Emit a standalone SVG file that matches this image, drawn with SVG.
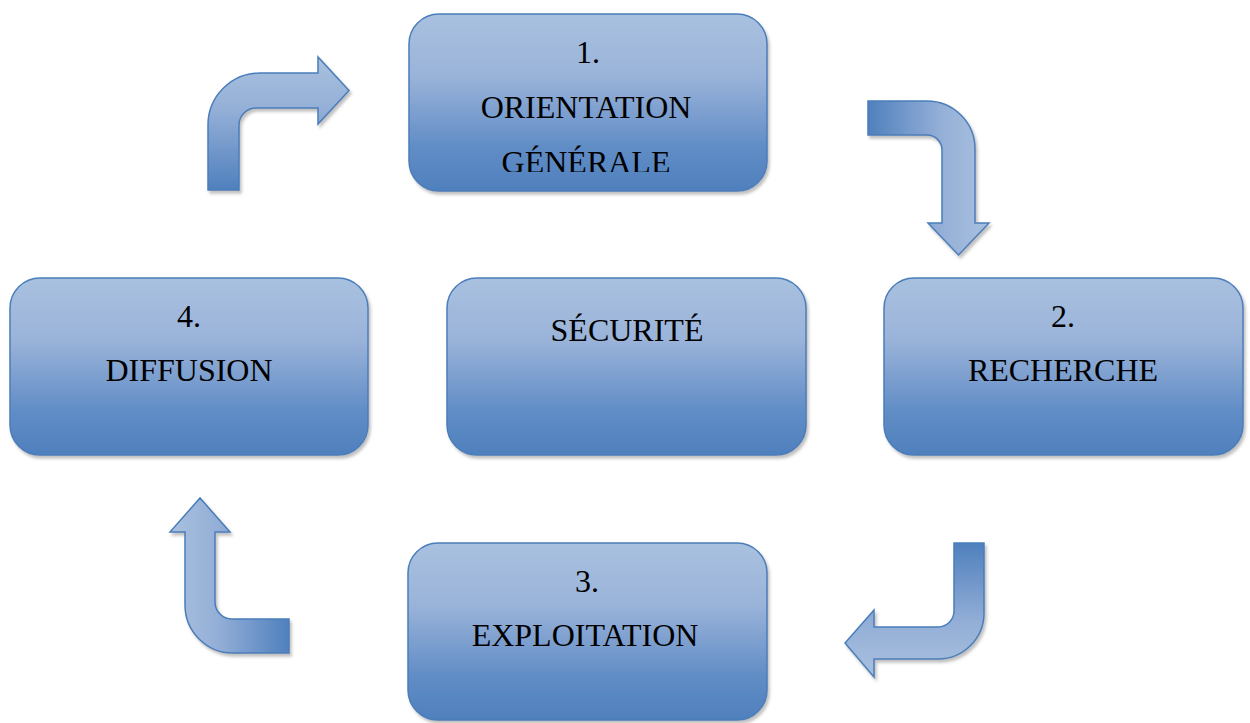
<svg xmlns="http://www.w3.org/2000/svg" width="1250" height="723" viewBox="0 0 1250 723">
  <style>
    .box { stroke: #4a7ebb; stroke-width: 1.5; fill: url(#boxFill); filter: url(#shadow); }
    .arrow { stroke: #4a7ebb; stroke-width: 1.5; stroke-linejoin: miter; filter: url(#shadow); }
    .label { font-family: "Liberation Serif", "Times New Roman", serif; font-size: 32px; fill: #000; text-anchor: middle; }
  </style>
  <defs>
    <linearGradient id="boxFill" x1="0" y1="0" x2="0" y2="1">
      <stop offset="0" stop-color="#a9c1df"/>
      <stop offset="0.35" stop-color="#9ab3d9"/>
      <stop offset="0.75" stop-color="#618dc6"/>
      <stop offset="1" stop-color="#4f80bd"/>
    </linearGradient>
    <!-- light at the top, dark at the bottom -->
    <linearGradient id="gradUp" x1="0" y1="0" x2="0" y2="1">
      <stop offset="0" stop-color="#a9c1df"/>
      <stop offset="0.4" stop-color="#94afd7"/>
      <stop offset="1" stop-color="#4f80bd"/>
    </linearGradient>
    <!-- dark at the top, light at the bottom -->
    <linearGradient id="gradDown" x1="0" y1="0" x2="0" y2="1">
      <stop offset="0" stop-color="#4f80bd"/>
      <stop offset="0.6" stop-color="#94afd7"/>
      <stop offset="1" stop-color="#a9c1df"/>
    </linearGradient>
    <!-- dark on the left, light on the right -->
    <linearGradient id="gradRight" x1="0" y1="0" x2="1" y2="0">
      <stop offset="0" stop-color="#4f80bd"/>
      <stop offset="0.6" stop-color="#94afd7"/>
      <stop offset="1" stop-color="#a9c1df"/>
    </linearGradient>
    <!-- light on the left, dark on the right -->
    <linearGradient id="gradLeft" x1="0" y1="0" x2="1" y2="0">
      <stop offset="0" stop-color="#a9c1df"/>
      <stop offset="0.4" stop-color="#94afd7"/>
      <stop offset="1" stop-color="#4f80bd"/>
    </linearGradient>
    <filter id="shadow" x="-10%" y="-10%" width="120%" height="125%">
      <feDropShadow dx="2" dy="3" stdDeviation="1.5" flood-color="#8c8c8c" flood-opacity="0.55"/>
    </filter>
    <clipPath id="clipTop">
      <rect x="409" y="14" width="358" height="158"/>
    </clipPath>
  </defs>

  <!-- bent connectors between the steps -->
  <g id="connectors">
    <path class="arrow" fill="url(#gradUp)" d="M208,190 L208,125 A52,52 0 0 1 260,73 L318,73 L318,57 L349,90.5 L318,124 L318,108 L256,108 A17,17 0 0 0 239,125 L239,190 Z"/>
    <path class="arrow" fill="url(#gradRight)" d="M868,101 L927,101 A48,48 0 0 1 975,149 L975,223 L989,223 L958.5,255 L928,223 L942,223 L942,150 A15,15 0 0 0 927,135 L868,135 Z"/>
    <path class="arrow" fill="url(#gradDown)" d="M954,543 L984,543 L984,613 A46,46 0 0 1 938,659 L874,659 L874,677 L845,643 L874,610 L874,627 L938,627 A16,16 0 0 0 954,611 Z"/>
    <path class="arrow" fill="url(#gradLeft)" d="M289,619 L289,653 L233,653 A48,48 0 0 1 185,605 L185,532 L170,532 L200,498 L230,532 L215,532 L215,602 A17,17 0 0 0 232,619 Z"/>
  </g>

  <g id="step-orientation">
    <rect class="box" x="409" y="14" width="358" height="177" rx="30" ry="30"/>
    <g clip-path="url(#clipTop)">
      <text class="label" x="588" y="63">1.</text>
      <text class="label" x="586" y="118">ORIENTATION</text>
      <text class="label" x="586" y="173">GÉNÉRALE</text>
    </g>
  </g>

  <g id="step-diffusion">
    <rect class="box" x="10" y="278" width="358" height="177" rx="30" ry="30"/>
    <text class="label" x="189" y="327">4.</text>
    <text class="label" x="189" y="381">DIFFUSION</text>
  </g>

  <g id="center-securite">
    <rect class="box" x="447" y="278" width="359" height="177" rx="30" ry="30"/>
    <text class="label" x="627" y="341">SÉCURITÉ</text>
  </g>

  <g id="step-recherche">
    <rect class="box" x="884" y="278" width="359" height="177" rx="30" ry="30"/>
    <text class="label" x="1063" y="327">2.</text>
    <text class="label" x="1063" y="381">RECHERCHE</text>
  </g>

  <g id="step-exploitation">
    <rect class="box" x="408" y="543" width="359" height="177" rx="30" ry="30"/>
    <text class="label" x="587" y="592">3.</text>
    <text class="label" x="585" y="646">EXPLOITATION</text>
  </g>
</svg>
